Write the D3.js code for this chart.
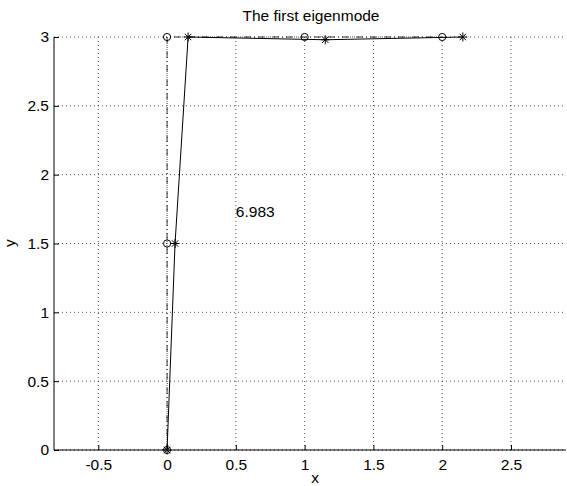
<!DOCTYPE html>
<html><head><meta charset="utf-8">
<script src="https://cdn.jsdelivr.net/npm/d3@7"></script>
<style>body{margin:0;background:#fff}svg{display:block}text{font-family:"Liberation Sans",Arial,sans-serif}</style>
</head><body><svg id="c" width="567" height="486"></svg>
<script>
const undeformedX = [0, 0, 0, 1, 2];
const undeformedY = [0, 1.5, 3, 3, 3];
const deformedX = [0, 0.058, 0.153, 1.15, 2.15];
const deformedY = [0, 1.5, 3, 2.98, 3];
const xTicks = [-0.5, 0, 0.5, 1, 1.5, 2, 2.5];
const yTicks = [0, 0.5, 1, 1.5, 2, 2.5, 3];
const labelText = "6.983";
const labelPos = [0.5, 1.735];
const titleText = "The first eigenmode";

const FS = 15.5;
const svg = d3.select("#c");
const x = d3.scaleLinear().domain([-0.822, 2.9]).range([54, 566]);
const y = d3.scaleLinear().domain([0, 3]).range([450, 37]);

const g = svg.append("g");
g.selectAll(".gx").data(xTicks).enter().append("line")
  .attr("x1", d => x(d)).attr("x2", d => x(d)).attr("y1", y(0)).attr("y2", y(3))
  .attr("stroke", "#000").attr("stroke-width", 0.7).attr("stroke-dasharray", "1,3");
g.selectAll(".gy").data(yTicks).enter().append("line")
  .attr("x1", x.range()[0]).attr("x2", x.range()[1]).attr("y1", d => y(d)).attr("y2", d => y(d))
  .attr("stroke", "#000").attr("stroke-width", 0.7).attr("stroke-dasharray", "1,3");

const fmt = d => String(d);
const xAxis = d3.axisBottom(x).tickValues(xTicks).tickSize(-5).tickPadding(9).tickFormat(fmt);
const yAxis = d3.axisLeft(y).tickValues(yTicks).tickSize(-5).tickPadding(5).tickFormat(fmt);
const xa = svg.append("g").attr("transform", `translate(0,${y(0)})`).call(xAxis);
const ya = svg.append("g").attr("transform", `translate(${x.range()[0]},0)`).call(yAxis);
[xa, ya].forEach(a => {
  a.select(".domain").remove();
  a.selectAll(".tick line").attr("stroke", "#000");
  a.selectAll("text").attr("font-size", FS).attr("fill", "#000").attr("font-family", '"Liberation Sans",Arial,sans-serif');
});
svg.append("line").attr("x1", x.range()[0]).attr("x2", x.range()[1]).attr("y1", y(0)).attr("y2", y(0)).attr("stroke", "#000");
svg.append("line").attr("x1", x.range()[0]).attr("x2", x.range()[0]).attr("y1", y(0)).attr("y2", y(3)).attr("stroke", "#000");

const und = undeformedX.map((d, i) => [d, undeformedY[i]]);
const def = deformedX.map((d, i) => [d, deformedY[i]]);
const line = d3.line().x(d => x(d[0])).y(d => y(d[1]));
svg.append("path").attr("d", line(und)).attr("fill", "none").attr("stroke", "#000").attr("stroke-width", 0.8).attr("stroke-dasharray", "7,3,1,3");
svg.append("path").attr("d", line(def)).attr("fill", "none").attr("stroke", "#000").attr("stroke-width", 1);

svg.selectAll(".circ").data(und).enter().append("circle")
  .attr("cx", d => x(d[0])).attr("cy", d => y(d[1])).attr("r", 3.6)
  .attr("fill", "none").attr("stroke", "#000").attr("stroke-width", 1);
const star = svg.selectAll(".star").data(def).enter().append("g")
  .attr("transform", d => `translate(${x(d[0])},${y(d[1])})`);
const s = 4.5;
star.append("line").attr("x1", -s).attr("x2", s).attr("y1", 0).attr("y2", 0);
star.append("line").attr("x1", 0).attr("x2", 0).attr("y1", -s).attr("y2", s);
star.append("line").attr("x1", -s*0.72).attr("x2", s*0.72).attr("y1", -s*0.72).attr("y2", s*0.72);
star.append("line").attr("x1", -s*0.72).attr("x2", s*0.72).attr("y1", s*0.72).attr("y2", -s*0.72);
star.selectAll("line").attr("stroke", "#000").attr("stroke-width", 1);

svg.append("text").attr("x", x(labelPos[0])).attr("y", y(labelPos[1])).attr("dy", "0.35em")
  .attr("font-size", FS).text(labelText);
svg.append("text").attr("x", 311).attr("y", 21).attr("text-anchor", "middle")
  .attr("font-size", FS).text(titleText);
svg.append("text").attr("x", 315).attr("y", 483).attr("text-anchor", "middle").attr("font-size", FS).text("x");
svg.append("text").attr("transform", "translate(15,243) rotate(-90)").attr("text-anchor", "middle").attr("font-size", FS).text("y");
</script></body></html>
